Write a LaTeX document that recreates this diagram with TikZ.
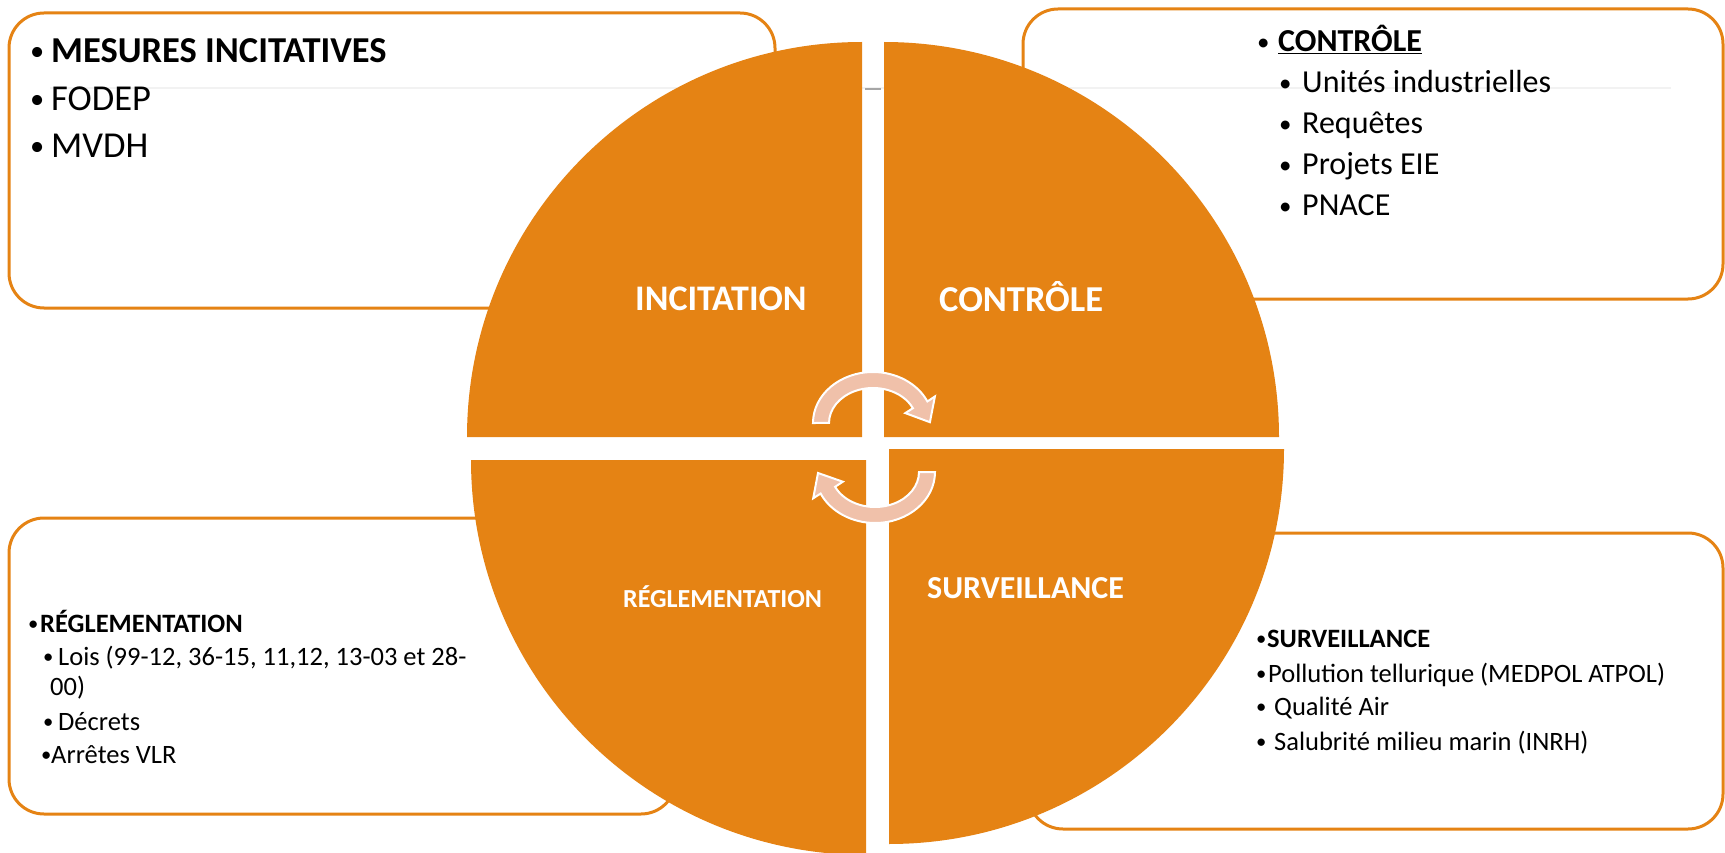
\documentclass[tikz,border=0pt]{standalone}
\usepackage{fontspec}
\usepackage{graphicx}
\setmainfont{Carlito}
\definecolor{qorange}{RGB}{229,131,20}
\definecolor{arrowfill}{RGB}{240,193,170}
\newcommand\mybul[1]{\makebox[#1][l]{\raisebox{0.06em}{\scalebox{0.78}{•}}}}
\begin{document}
\begin{tikzpicture}[x=1pt,y=-1pt,
  infobox/.style={draw=qorange, line width=3pt, fill=white, rounded corners=35pt},
  quad/.style={fill=qorange},
  cyc/.style={fill=arrowfill, draw=white, line width=2pt, line join=miter},
  qlabel/.style={text=white, anchor=base west, inner sep=0pt},
  txt/.style={anchor=base west, inner sep=0pt}]
\useasboundingbox (0,0) rectangle (1725,853);
% boxes
\draw[infobox] (9,13) rectangle (775,308);
\draw[infobox] (1023,9) rectangle (1723,299);
\draw[infobox] (9,518) rectangle (676,814);
\draw[infobox] (1028,533) rectangle (1723,829);
% faint line
\draw[gray!10, line width=1.5pt] (50,88) -- (1671,88);
% quadrants
\fill[quad] (862,437) -- (467,437) arc[start angle=180,end angle=270,radius=395] -- cycle;
\fill[quad] (884,437) -- (884,42) arc[start angle=270,end angle=360,radius=395] -- cycle;
\fill[quad] (889,449) -- (1284,449) arc[start angle=0,end angle=90,radius=395] -- cycle;
\fill[quad] (866,460) -- (866,855) arc[start angle=90,end angle=180,radius=395] -- cycle;
\draw[gray!70, line width=1.5pt] (865,89) -- (881,89);
% cycle arrows
\draw[cyc] (813,423) arc[start angle=180,end angle=335,x radius=60,y radius=51]
  -- (934.9,396.5) -- (929.9,422.2) -- (905.3,413.1) -- (912.9,408.2)
  arc[start angle=335,end angle=180,x radius=44,y radius=35] -- cycle;
\draw[cyc] (935,472) arc[start angle=0,end angle=155,x radius=60,y radius=51]
  -- (813.2,498.3) -- (818,473) -- (842.8,481.7) -- (835.1,486.8)
  arc[start angle=155,end angle=0,x radius=44,y radius=35] -- cycle;
% quadrant labels
\node[qlabel, font=\fontsize{36}{43}\selectfont\bfseries] (lincit) at (635,310) {INCITATION};
\node[qlabel, font=\fontsize{36.5}{43}\selectfont\bfseries] (lcontr) at (939,312) {CONTRÔLE};
\node[qlabel, font=\fontsize{32}{38}\selectfont\bfseries] (lsurv) at (927,598) {SURVEILLANCE};
\node[qlabel, font=\fontsize{26}{31}\selectfont\bfseries] (lregl) at (623,607) {RÉGLEMENTATION};
% top-left box text
\begin{scope}[every node/.style={txt, font=\fontsize{36.5}{43}\selectfont}]
\node (tl1) at (30,63) {\mybul{21pt}\textbf{MESURES INCITATIVES}};
\node (tl2) at (30,111) {\mybul{21pt}FODEP};
\node (tl3) at (30,158) {\mybul{21pt}MVDH};
\end{scope}
% top-right box text
\begin{scope}[every node/.style={txt, font=\fontsize{32}{38}\selectfont}]
\node (tr1) at (1257,52) {\mybul{21pt}\underline{\textbf{CONTRÔLE}}};
\node (tr2) at (1279,93) {\mybul{23pt}Unités industrielles};
\node (tr3) at (1279,134) {\mybul{23pt}Requêtes};
\node (tr4) at (1279,175) {\mybul{23pt}Projets EIE};
\node (tr5) at (1279,216) {\mybul{23pt}PNACE};
\end{scope}
% bottom-left box text
\begin{scope}[every node/.style={txt, font=\fontsize{26.5}{31}\selectfont}]
\node (bl1) at (28,632) {\mybul{12pt}\textbf{RÉGLEMENTATION}};
\node (bl2) at (43,665) {\mybul{15pt}Lois (99-12, 36-15, 11,12, 13-03 et 28-};
\node (bl3) at (50,695) {00)};
\node (bl4) at (43,730) {\mybul{15pt}Décrets};
\node (bl5) at (41,763) {\mybul{10pt}Arrêtes VLR};
\end{scope}
% bottom-right box text
\begin{scope}[every node/.style={txt, font=\fontsize{26.5}{31}\selectfont}]
\node (br1) at (1256,647) {\mybul{11pt}\textbf{SURVEILLANCE}};
\node (br2) at (1256,682) {\mybul{12pt}Pollution tellurique (MEDPOL ATPOL)};
\node (br3) at (1256,715) {\mybul{18pt}Qualité Air};
\node (br4) at (1256,750) {\mybul{18pt}Salubrité milieu marin (INRH)};
\end{scope}
\end{tikzpicture}
\end{document}
